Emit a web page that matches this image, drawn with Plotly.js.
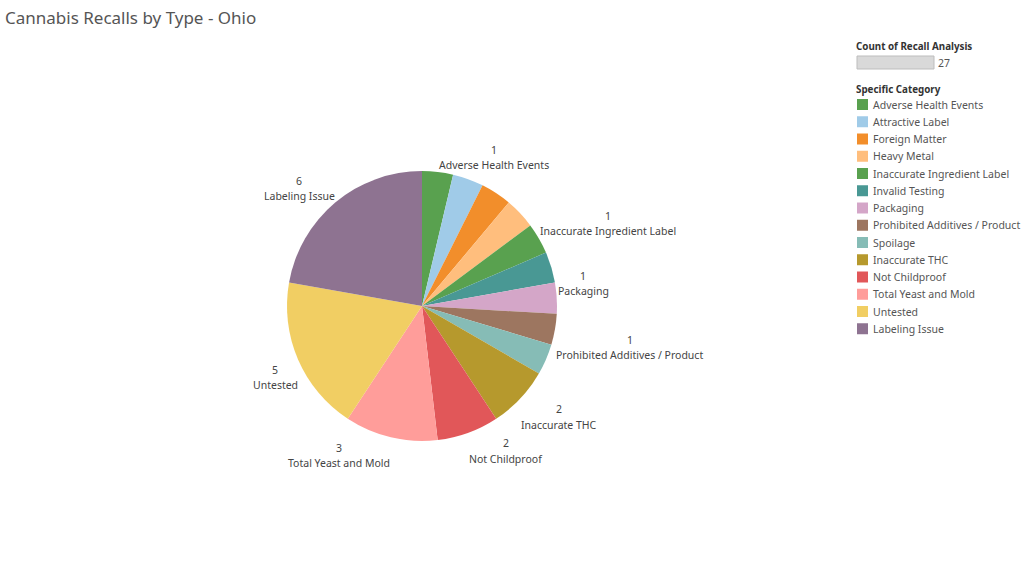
<!DOCTYPE html>
<html>
<head>
<meta charset="utf-8">
<script src="https://cdn.plot.ly/plotly-3.0.1.min.js"></script>
<style>html,body{margin:0;padding:0;background:#fff;}#chart{width:1024px;height:577px;}</style>
</head>
<body>
<div id="chart"></div>
<script>
const categories = ["Adverse Health Events","Attractive Label","Foreign Matter","Heavy Metal","Inaccurate Ingredient Label","Invalid Testing","Packaging","Prohibited Additives / Product","Spoilage","Inaccurate THC","Not Childproof","Total Yeast and Mold","Untested","Labeling Issue"];
const counts = [1,1,1,1,1,1,1,1,1,2,2,3,5,6];
const colors = ["#59a14f","#a0cbe8","#f28e2b","#ffbe7d","#59a14f","#499894","#d4a6c8","#9d7660","#86bcb6","#b6992d","#e15759","#ff9d9a","#f1ce63","#8e7391"];
const showLabel = [true,false,false,false,true,false,true,true,false,true,true,true,true,true];
const titleText = "Cannabis Recalls by Type - Ohio";
const sizeLegendTitle = "Count of Recall Analysis";
const colorLegendTitle = "Specific Category";

const W = 1024, H = 577;
const cx = 422, cy = 306, R = 135;
const px = x => x / W, py = y => 1 - y / H;
const FONT = "Noto Sans, sans-serif";
const LABEL_SIZE = 10.5;
const total = counts.reduce((a,b)=>a+b,0);

const ctx = document.createElement('canvas').getContext('2d');
ctx.font = LABEL_SIZE + 'px "Noto Sans"';
const textWidth = t => ctx.measureText(t).width;

const annotations = [];
const shapes = [];

// slice labels: value line above category line, block placed just outside the slice's mid angle
let cum = 0;
counts.forEach((v,i)=>{
  const mid = (cum + v/2) / total * 2 * Math.PI;
  cum += v;
  if (!showLabel[i]) return;
  const s = Math.sin(mid), c = Math.cos(mid);
  const x = cx + R * s, y = cy - R * c;
  const w = textWidth(categories[i]);
  const xc = s >= 0 ? x + 1 + w / 2 : x - 0.5 - w / 2;
  const yName = c >= 0 ? y - 7 : y + 26;
  const yVal = c >= 0 ? y - 22 : y + 10.5;
  const common = {xref:'paper', yref:'paper', x: px(xc), xanchor:'center', yanchor:'middle', showarrow:false,
    font:{family:FONT, size:LABEL_SIZE, color:'#444'}};
  annotations.push(Object.assign({}, common, {y: py(yVal), text: String(v)}));
  annotations.push(Object.assign({}, common, {y: py(yName), text: categories[i]}));
});

// title
annotations.push({xref:'paper', yref:'paper', x:px(3), y:py(18), xanchor:'left', yanchor:'middle', showarrow:false,
  text:titleText, font:{family:FONT, size:17, color:'#555'}});

// size legend
annotations.push({xref:'paper', yref:'paper', x:px(854), y:py(47), xanchor:'left', yanchor:'middle', showarrow:false,
  text:'<b>'+sizeLegendTitle+'</b>', font:{family:FONT, size:9.8, color:'#333'}});
shapes.push({type:'rect', xref:'paper', yref:'paper', x0:px(857), x1:px(934), y0:py(56), y1:py(69),
  fillcolor:'#d9d9d9', line:{color:'#bdbdbd', width:1}});
annotations.push({xref:'paper', yref:'paper', x:px(936), y:py(63), xanchor:'left', yanchor:'middle', showarrow:false,
  text:String(total), font:{family:FONT, size:10.5, color:'#555'}});

// color legend
annotations.push({xref:'paper', yref:'paper', x:px(854), y:py(89), xanchor:'left', yanchor:'middle', showarrow:false,
  text:'<b>'+colorLegendTitle+'</b>', font:{family:FONT, size:9.8, color:'#333'}});
categories.forEach((name,i)=>{
  const yc = 104.5 + i * 17.25;
  shapes.push({type:'rect', xref:'paper', yref:'paper', x0:px(857), x1:px(868), y0:py(yc-5.5), y1:py(yc+5.5),
    fillcolor:colors[i], line:{width:0}});
  annotations.push({xref:'paper', yref:'paper', x:px(871), y:py(yc), xanchor:'left', yanchor:'middle', showarrow:false,
    text:name, font:{family:FONT, size:10.5, color:'#555'}});
});

const trace = {
  type:'pie', labels:categories, values:counts, sort:false, direction:'clockwise', rotation:0,
  marker:{colors:colors, line:{width:0}}, textinfo:'none', hoverinfo:'label+value',
  domain:{x:[px(cx-R), px(cx+R)], y:[py(cy+R), py(cy-R)]}
};

Plotly.newPlot('chart', [trace], {
  width:W, height:H, margin:{l:0,r:0,t:0,b:0}, showlegend:false,
  paper_bgcolor:'#fff', plot_bgcolor:'#fff',
  annotations:annotations, shapes:shapes
}, {displayModeBar:false, staticPlot:true});
</script>
</body>
</html>
